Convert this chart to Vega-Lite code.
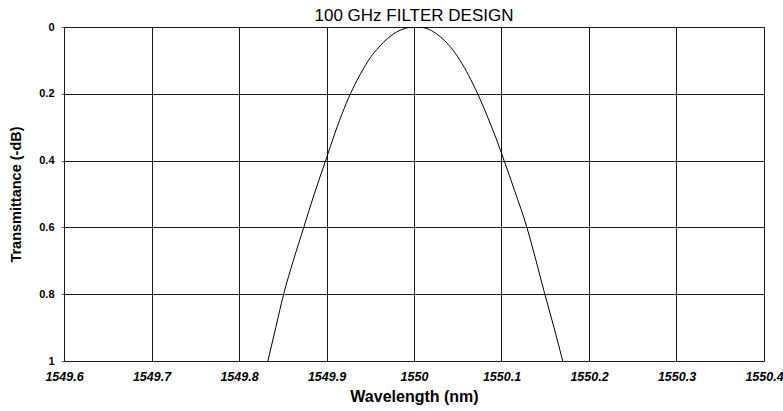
{
  "$schema": "https://vega.github.io/schema/vega-lite/v6.json",
  "width": 700,
  "height": 334,
  "autosize": {"type": "none"},
  "padding": {"left": 64, "top": 27, "right": 19, "bottom": 50},
  "background": "white",
  "title": {
    "text": "100 GHz FILTER DESIGN",
    "font": "Liberation Sans",
    "fontSize": 17,
    "fontWeight": "normal",
    "color": "#000000",
    "anchor": "middle",
    "frame": "group",
    "baseline": "alphabetic",
    "offset": 0,
    "dy": 17
  },
  "config": {
    "view": {"stroke": "#666666", "strokeWidth": 1},
    "axis": {
      "grid": true,
      "gridColor": "#1a1a1a",
      "gridOpacity": 1,
      "gridWidth": 1,
      "domain": false,
      "labelColor": "#000000",
      "titleColor": "#000000",
      "labelFont": "Liberation Sans",
      "titleFont": "Liberation Sans",
      "titleFontWeight": "bold"
    }
  },
  "data": {
    "values": [
      {"wavelength": 1549.833, "trans": 1.0},
      {"wavelength": 1549.842, "trans": 0.9},
      {"wavelength": 1549.851, "trans": 0.8},
      {"wavelength": 1549.862, "trans": 0.7},
      {"wavelength": 1549.874, "trans": 0.6},
      {"wavelength": 1549.886, "trans": 0.5},
      {"wavelength": 1549.899, "trans": 0.4},
      {"wavelength": 1549.91, "trans": 0.315},
      {"wavelength": 1549.92, "trans": 0.245},
      {"wavelength": 1549.93, "trans": 0.185},
      {"wavelength": 1549.94, "trans": 0.135},
      {"wavelength": 1549.95, "trans": 0.092},
      {"wavelength": 1549.96, "trans": 0.06},
      {"wavelength": 1549.97, "trans": 0.034},
      {"wavelength": 1549.98, "trans": 0.015},
      {"wavelength": 1549.99, "trans": 0.004},
      {"wavelength": 1550.0, "trans": 0.0},
      {"wavelength": 1550.004, "trans": 0.0},
      {"wavelength": 1550.015, "trans": 0.005},
      {"wavelength": 1550.025, "trans": 0.019},
      {"wavelength": 1550.035, "trans": 0.041},
      {"wavelength": 1550.045, "trans": 0.071},
      {"wavelength": 1550.055, "trans": 0.11},
      {"wavelength": 1550.065, "trans": 0.158},
      {"wavelength": 1550.075, "trans": 0.213},
      {"wavelength": 1550.085, "trans": 0.275},
      {"wavelength": 1550.095, "trans": 0.342},
      {"wavelength": 1550.103, "trans": 0.4},
      {"wavelength": 1550.115, "trans": 0.49},
      {"wavelength": 1550.129, "trans": 0.6},
      {"wavelength": 1550.139, "trans": 0.695},
      {"wavelength": 1550.149, "trans": 0.795},
      {"wavelength": 1550.16, "trans": 0.9},
      {"wavelength": 1550.17, "trans": 1.0}
    ]
  },
  "mark": {"type": "line", "color": "#000000", "strokeWidth": 1, "interpolate": "monotone", "clip": true},
  "encoding": {
    "x": {
      "field": "wavelength",
      "type": "quantitative",
      "title": "Wavelength (nm)",
      "scale": {"domain": [1549.6, 1550.4], "nice": false, "zero": false},
      "axis": {
        "values": [1549.6, 1549.7, 1549.8, 1549.9, 1550.0, 1550.1, 1550.2, 1550.3, 1550.4],
        "format": "~g",
        "labelFontSize": 12.5,
        "labelFontWeight": "bold",
        "labelFontStyle": "italic",
        "labelPadding": 9,
        "ticks": false,
        "labelFlush": false,
        "labelOverlap": false,
        "titleFontSize": 16,
        "titlePadding": 6
      }
    },
    "y": {
      "field": "trans",
      "type": "quantitative",
      "title": "Transmittance (-dB)",
      "scale": {"domain": [0, 1], "reverse": true, "nice": false},
      "axis": {
        "values": [0, 0.2, 0.4, 0.6, 0.8, 1],
        "format": "~g",
        "labelFontSize": 11,
        "labelFontWeight": "bold",
        "ticks": true,
        "tickSize": 3,
        "tickColor": "#666666",
        "labelPadding": 7,
        "labelFlush": false,
        "labelOverlap": false,
        "titleFontSize": 14.5,
        "titlePadding": 15
      }
    }
  }
}
